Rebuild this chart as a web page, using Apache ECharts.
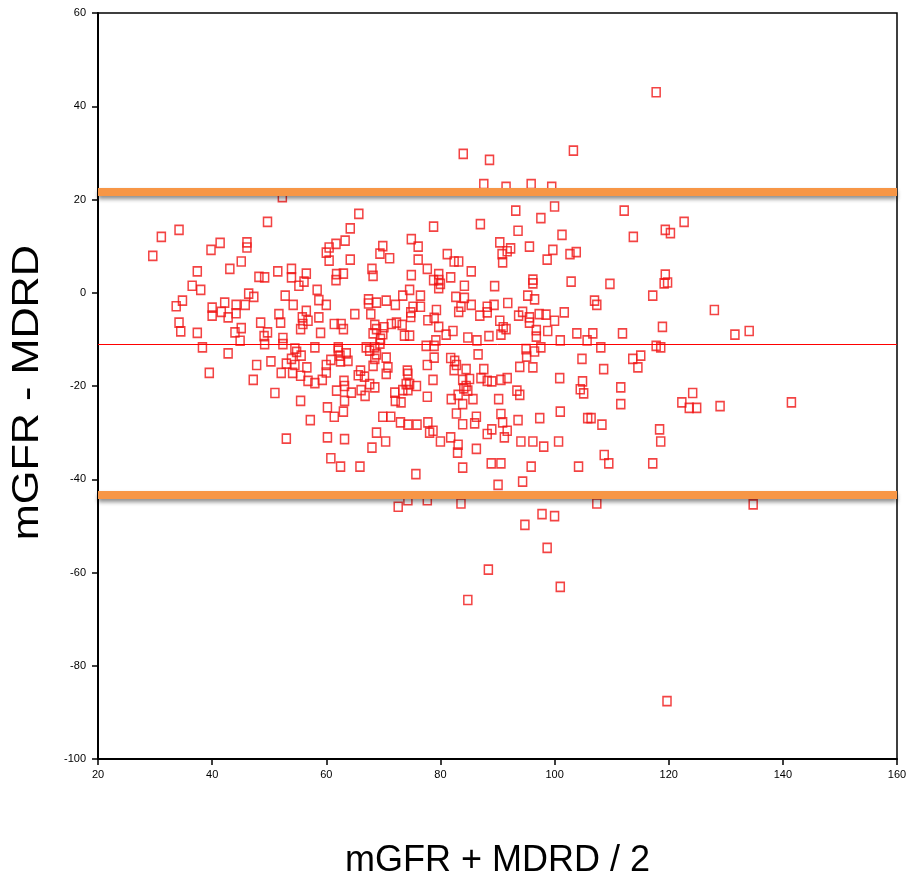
<!DOCTYPE html>
<html>
<head>
<meta charset="utf-8">
<script src="https://cdn.jsdelivr.net/npm/echarts@6/dist/echarts.min.js"></script>
<style>html,body{margin:0;padding:0;background:#fff}#chart{width:906px;height:886px}</style>
</head>
<body>
<div id="chart"></div>
<script>
// Average of the two measures (x) and their difference (y)
const points = [
[52.3,20.5],[49.7,15.2],[34.2,13.5],[31.1,12.0],[29.6,7.9],[41.4,10.7],[39.8,9.2],[46.1,10.8],[46.1,9.7],[45.1,6.7],
[43.1,5.1],[37.4,4.6],[48.2,3.4],[49.2,3.3],[51.5,4.6],[53.9,5.1],[53.9,3.3],[55.2,1.5],[36.5,1.5],[38.0,0.6],
[52.8,-0.6],[46.4,-0.2],[47.3,-0.9],[34.8,-1.7],[33.7,-2.9],[42.2,-2.1],[40.0,-3.2],[40.0,-4.9],[41.6,-4.1],[42.8,-5.3],
[44.2,-2.6],[44.2,-4.4],[45.8,-2.6],[54.2,-2.6],[51.7,-4.6],[52.0,-6.4],[48.5,-6.4],[34.2,-6.4],[34.5,-8.3],[37.4,-8.6],
[44.0,-8.5],[45.1,-7.6],[49.7,-8.5],[49.1,-9.3],[52.4,-9.7],[52.4,-11.0],[55.5,-7.8],[55.8,-5.3],[55.9,-6.7],[49.2,-11.0],
[38.3,-11.7],[44.9,-10.3],[54.5,-12.0],
[42.8,-13.0],[39.5,-17.2],[47.8,-15.5],[47.2,-18.7],[50.3,-14.7],[51.0,-21.5],[53.0,-31.3],[52.1,-17.2],[54.1,-17.2],[53.0,-15.2],
[53.9,-14.2],[54.5,-15.5],[54.8,-12.7],[55.6,-13.5],[55.5,-17.8],[55.5,-23.2],
[87.6,23.3],[65.7,16.9],[64.2,13.8],[78.8,14.2],[87.0,14.7],[63.3,11.2],[61.7,10.5],[60.5,9.7],[60.0,8.6],[60.5,6.9],
[64.2,7.1],[69.9,10.0],[69.4,8.4],[71.1,7.4],[74.9,11.5],[76.1,9.9],[76.1,7.1],[81.2,8.3],[82.4,6.7],[83.2,6.7],
[90.4,10.8],[90.8,8.3],[90.9,6.5],[68.0,5.1],[68.2,3.6],[77.7,5.1],[74.9,3.8],[79.7,4.0],[78.8,2.7],[79.7,2.7],
[80.0,1.9],[79.7,1.0],[81.8,3.3],[85.4,4.6],[84.2,1.5],[89.5,1.4],[63.0,4.1],[61.8,4.0],[61.7,2.7],[56.5,4.1],
[56.1,2.4],[58.4,0.6],[58.7,-1.6],[60.0,-2.6],[65.0,-4.6],[67.4,-1.4],[67.4,-2.3],[68.8,-2.1],[70.5,-1.7],[67.8,-4.6],
[72.1,-2.6],[73.4,-0.6],[74.6,0.6],[76.5,-0.6],[76.5,-3.0],[75.2,-3.0],[74.8,-4.2],[74.8,-5.2],[79.3,-3.7],[78.9,-5.4],
[77.8,-5.9],[82.7,-0.9],[84.2,-1.1],[83.6,-3.0],[83.2,-4.1],[85.4,-2.6],[88.2,-3.0],[88.2,-4.2],[89.4,-2.6],[86.9,-4.9],
[90.4,-6.0],[91.0,-7.4],[90.6,-9.0],[88.5,-9.3],[86.4,-10.2],[84.8,-9.6],[79.7,-7.3],[81.0,-9.0],[82.2,-8.2],[79.2,-10.2],
[78.9,-11.4],[77.5,-11.4],[56.5,-3.9],[56.8,-6.0],[58.7,-5.3],[59.0,-8.6],[61.4,-6.7],[62.6,-6.7],[63.0,-7.8],
[68.5,-6.9],[68.8,-7.8],[70.1,-7.4],[69.9,-8.9],[69.5,-9.9],[68.2,-8.7],[71.4,-6.7],[72.3,-6.4],[73.3,-6.9],[73.7,-9.2],
[74.6,-9.2],[58.0,-11.7],[62.1,-11.7],[67.0,-11.7],
[91.5,22.7],[95.9,23.3],[99.5,22.7],[93.2,17.6],[100.0,18.5],[97.6,16.0],[112.2,17.6],[122.7,15.2],[93.6,13.3],[101.3,12.4],
[113.8,12.0],[119.4,13.5],[120.3,12.8],[92.3,9.5],[91.7,8.9],[95.6,9.9],[99.7,9.2],[98.7,7.1],[102.7,8.3],[103.8,8.7],
[96.2,2.8],[96.2,2.0],[102.9,2.4],[109.7,1.9],[119.4,3.9],[119.2,2.0],[119.8,2.2],[117.2,-0.6],[95.3,-0.6],[96.5,-1.4],
[91.8,-2.2],[107.0,-1.7],[107.4,-2.6],[94.4,-4.1],[93.7,-4.9],[95.6,-5.3],[97.3,-4.6],[98.5,-4.7],[100.0,-6.0],[101.7,-4.2],
[91.5,-7.8],[95.6,-6.4],[96.8,-8.0],[98.8,-8.2],[96.8,-9.4],[103.9,-8.7],[106.7,-8.7],[105.7,-10.2],[111.9,-8.7],[118.9,-7.3],
[101.0,-10.2],[108.1,-11.7],[117.8,-11.4],[118.6,-11.7],[95.0,-12.1],[97.6,-11.7],
[56.6,-16.0],[56.8,-18.9],[58.0,-19.4],[59.3,-18.7],[60.0,-17.1],[60.0,-15.5],[60.8,-14.4],[62.1,-12.4],[62.4,-13.5],[63.5,-13.0],
[63.8,-14.6],[62.5,-14.7],[66.0,-16.7],[65.6,-17.7],[66.7,-18.0],[67.6,-19.6],[68.5,-20.3],[63.1,-18.9],[63.2,-20.0],[61.8,-21.0],
[64.4,-21.4],[63.2,-23.2],[66.1,-20.9],[66.8,-22.1],[60.2,-24.6],[61.4,-26.6],[63.0,-25.5],[57.2,-27.3],[60.2,-31.0],[63.2,-31.4],
[60.8,-35.5],[62.5,-37.3],[65.9,-37.3],[68.8,-30.0],[68.0,-33.2],[70.4,-31.9],[69.9,-26.6],[71.3,-26.6],[72.0,-21.4],[72.1,-23.2],
[73.1,-23.5],[73.0,-27.8],[74.3,-28.3],[75.9,-28.3],[74.2,-16.7],[74.3,-17.4],[74.0,-19.6],[74.6,-19.6],[74.3,-20.9],[73.4,-20.9],
[75.8,-20.0],[70.5,-13.9],[70.8,-16.0],[70.5,-17.4],[68.5,-14.2],[68.2,-15.7],[68.8,-13.2],[67.6,-12.4],[69.4,-10.9],[68.5,-11.7],
[78.9,-13.9],[77.7,-15.5],[78.7,-18.7],[77.7,-22.3],[77.8,-27.8],[78.1,-30.0],[78.7,-29.6],[80.0,-31.9],[75.7,-38.9],[72.6,-45.9],
[74.3,-44.5],[77.7,-44.5],[81.8,-14.0],[82.5,-14.6],[82.8,-15.5],[82.4,-16.6],[84.5,-16.4],[83.9,-18.7],[85.1,-18.5],[84.5,-20.0],
[84.8,-21.0],[84.1,-20.5],[86.6,-13.2],[87.6,-16.4],[87.1,-18.3],[88.2,-18.9],[89.0,-19.0],[90.6,-18.7],[81.9,-22.8],[83.1,-21.9],
[83.9,-23.9],[85.7,-22.8],[90.2,-22.8],[82.8,-25.9],[83.9,-28.2],[86.3,-26.6],[86.0,-28.0],[90.6,-26.0],[90.9,-27.8],[81.8,-31.0],
[83.1,-32.6],[83.0,-34.3],[86.3,-33.5],[88.2,-30.3],[89.0,-29.3],[83.9,-37.5],[88.9,-36.6],[90.6,-36.6],[90.1,-41.2],[83.6,-45.2],
[95.1,-13.7],[96.5,-12.6],[104.8,-14.2],[108.6,-16.4],[113.7,-14.2],[115.1,-13.5],[114.6,-16.0],[93.9,-15.9],[96.2,-16.0],[91.7,-18.3],
[100.9,-18.3],[104.9,-19.0],[104.5,-20.7],[105.1,-21.6],[111.6,-20.3],[111.6,-23.9],[93.4,-21.0],[93.9,-21.9],[124.2,-21.5],[122.3,-23.5],
[123.6,-24.7],[124.9,-24.7],[91.7,-29.6],[91.2,-31.0],[93.6,-27.3],[97.4,-26.9],[101.0,-25.5],[105.8,-26.9],[106.4,-26.9],[108.3,-28.3],
[118.4,-29.3],[118.6,-31.9],[94.1,-31.9],[96.2,-31.9],[98.1,-33.0],[100.7,-31.9],[108.7,-34.8],[109.5,-36.6],[117.2,-36.6],[95.9,-37.3],
[104.2,-37.3],[94.4,-40.5],[107.4,-45.2],
[128.0,-3.7],[131.6,-9.0],[134.1,-8.2],[129.0,-24.3],[141.5,-23.5],[134.8,-45.4],
[117.8,43.0],[84.0,29.8],[88.6,28.5],[103.3,30.5],
[97.8,-47.5],[100.0,-47.9],[94.8,-49.8],[98.7,-54.7],[88.4,-59.4],[101.0,-63.1],[84.8,-65.9],[119.7,-87.6]
];
const meanDifference = -11;
const upperLimit = 21.7;
const lowerLimit = -43.3;
const xTicks = [20, 40, 60, 80, 100, 120, 140, 160];
const yTicks = [-100, -80, -60, -40, -20, 0, 20, 40, 60];
const xTitle = 'mGFR + MDRD / 2';
const yTitle = 'mGFR - MDRD';

const chart = echarts.init(document.getElementById('chart'), null, {renderer: 'canvas'});
const font = 'Liberation Sans, Arial, sans-serif';
const orangeLine = {color: '#F79646', width: 8, type: 'solid', shadowColor: 'rgba(0,0,0,0.45)', shadowBlur: 4, shadowOffsetY: 3};
chart.setOption({
  animation: false,
  backgroundColor: '#fff',
  grid: {left: 98, right: 9, top: 13, bottom: 127, outerBoundsMode: 'none', containLabel: false,
         show: true, borderColor: '#000', borderWidth: 1.5, backgroundColor: '#fff'},
  graphic: [{
    type: 'text', left: 10, top: 245, z: 10,
    rotation: Math.PI / 2,
    style: {text: yTitle, fill: '#000', font: '36px Liberation Sans, Arial, sans-serif', textAlign: 'center', textVerticalAlign: 'middle'},
    scaleX: 1.2
  }],
  xAxis: {
    type: 'value', min: xTicks[0], max: xTicks[xTicks.length - 1], interval: 20,
    name: xTitle, nameLocation: 'middle', nameGap: 84,
    nameTextStyle: {fontSize: 36, color: '#000', fontFamily: font},
    axisLine: {show: true, onZero: false, lineStyle: {color: '#000', width: 2}},
    axisTick: {show: true, length: 6, lineStyle: {color: '#000', width: 1.5}},
    axisLabel: {color: '#000', fontSize: 11, margin: 10, fontFamily: font},
    splitLine: {show: false}
  },
  yAxis: {
    type: 'value', min: yTicks[0], max: yTicks[yTicks.length - 1], interval: 20,
    axisLine: {show: true, onZero: false, lineStyle: {color: '#000', width: 2}},
    axisTick: {show: true, length: 6, lineStyle: {color: '#000', width: 1.5}},
    axisLabel: {color: '#000', fontSize: 11, margin: 12, fontFamily: font},
    splitLine: {show: false}
  },
  series: [{
    type: 'scatter',
    data: points,
    symbol: 'rect',
    symbolSize: [8, 9],
    itemStyle: {color: 'rgba(255,255,255,0)', borderColor: '#f01414', borderWidth: 1.6},
    markLine: {
      silent: true, symbol: 'none', label: {show: false},
      data: [
        {yAxis: meanDifference, lineStyle: {color: '#ff0000', width: 1, type: 'solid'}},
        {yAxis: upperLimit, lineStyle: orangeLine},
        {yAxis: lowerLimit, lineStyle: orangeLine}
      ]
    }
  }]
});
</script>
</body>
</html>
